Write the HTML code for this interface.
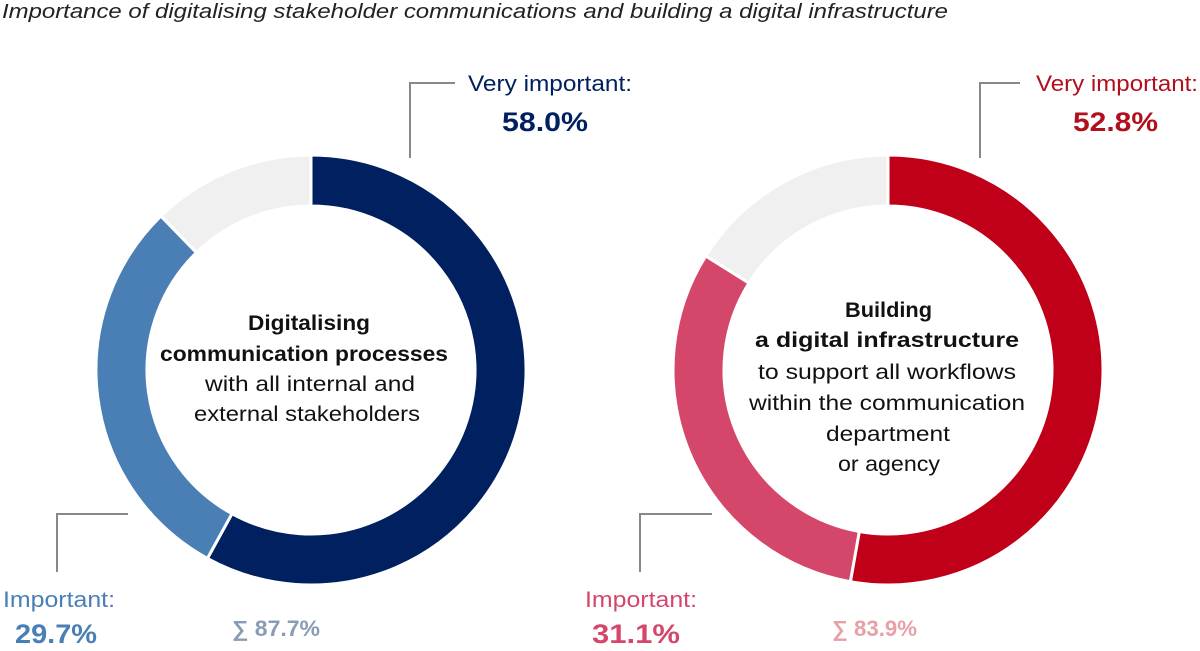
<!DOCTYPE html>
<html><head><meta charset="utf-8"><style>
body{margin:0;width:1200px;height:646px;background:#fff;overflow:hidden;font-family:"Liberation Sans",sans-serif}
svg text{font-family:"Liberation Sans",sans-serif}
</style></head><body>
<svg id="chart" width="1200" height="646">
<text x="2" y="18" font-size="20" font-style="italic" fill="#222" textLength="946" lengthAdjust="spacingAndGlyphs">Importance of digitalising stakeholder communications and building a digital infrastructure</text>
<g id="d1"></g>
<g id="d2"></g>
<g stroke="#888" stroke-width="2" fill="none">
<polyline points="455,83 410,83 410,158"/>
<polyline points="128,514 57,514 57,572"/>
<polyline points="1020,83 980,83 980,158"/>
<polyline points="712,514 640,514 640,572"/>
</g>
<g font-size="22" lengthAdjust="spacingAndGlyphs">
<text x="468" y="91" textLength="164" lengthAdjust="spacingAndGlyphs" fill="#002060">Very important:</text>
<text x="502" y="131" textLength="86" lengthAdjust="spacingAndGlyphs" fill="#002060" font-weight="bold" font-size="27">58.0%</text>
<text x="3" y="607" textLength="112" lengthAdjust="spacingAndGlyphs" fill="#4a7fb5">Important:</text>
<text x="15" y="643" textLength="82" lengthAdjust="spacingAndGlyphs" fill="#4a7fb5" font-weight="bold" font-size="27">29.7%</text>
<text x="232" y="636" textLength="88" lengthAdjust="spacingAndGlyphs" fill="#8a9bb5" font-weight="bold">∑ 87.7%</text>
<text x="1036" y="91" textLength="162" lengthAdjust="spacingAndGlyphs" fill="#b0101c">Very important:</text>
<text x="1073" y="131" textLength="85" lengthAdjust="spacingAndGlyphs" fill="#b0101c" font-weight="bold" font-size="27">52.8%</text>
<text x="585" y="607" textLength="112" lengthAdjust="spacingAndGlyphs" fill="#d4476a">Important:</text>
<text x="592" y="643" textLength="88" lengthAdjust="spacingAndGlyphs" fill="#d4476a" font-weight="bold" font-size="27">31.1%</text>
<text x="832" y="636" textLength="85" lengthAdjust="spacingAndGlyphs" fill="#e8a0a8" font-weight="bold">∑ 83.9%</text>
</g>
<g font-size="21" fill="#111">
<text x="248" y="330" textLength="122" lengthAdjust="spacingAndGlyphs" font-weight="bold">Digitalising</text>
<text x="160" y="361" textLength="288" lengthAdjust="spacingAndGlyphs" font-weight="bold">communication processes</text>
<text x="205" y="391" textLength="210" lengthAdjust="spacingAndGlyphs">with all internal and</text>
<text x="194" y="421" textLength="226" lengthAdjust="spacingAndGlyphs">external stakeholders</text>
<text x="845" y="317" textLength="87" lengthAdjust="spacingAndGlyphs" font-weight="bold">Building</text>
<text x="755" y="347" textLength="264" lengthAdjust="spacingAndGlyphs" font-weight="bold">a digital infrastructure</text>
<text x="758" y="379" textLength="258" lengthAdjust="spacingAndGlyphs">to support all workflows</text>
<text x="749" y="410" textLength="276" lengthAdjust="spacingAndGlyphs">within the communication</text>
<text x="826" y="441" textLength="124" lengthAdjust="spacingAndGlyphs">department</text>
<text x="838" y="471" textLength="102" lengthAdjust="spacingAndGlyphs">or agency</text>
</g>
</svg>
<script>
const categories=["Very important","Important","Other"];
const valuesDigitalising=[58.0,29.7,12.3];
const valuesInfrastructure=[52.8,31.1,16.1];
const colors1=["#002060","#4a7fb5","#f0f0f0"];
const colors2=["#c00018","#d4476a","#f0f0f0"];
const NS="http://www.w3.org/2000/svg";
function pt(cx,cy,r,a){return [cx+r*Math.sin(a),cy-r*Math.cos(a)];}
function donut(g,cx,cy,vals,cols){
  const R=215,r=164;let start=0;
  vals.forEach((v,i)=>{
    const end=start+v/100*2*Math.PI;
    const la=(end-start)>Math.PI?1:0;
    const [x1,y1]=pt(cx,cy,R,start),[x2,y2]=pt(cx,cy,R,end),[x3,y3]=pt(cx,cy,r,end),[x4,y4]=pt(cx,cy,r,start);
    const p=document.createElementNS(NS,"path");
    p.setAttribute("d",`M${x1},${y1}A${R},${R} 0 ${la} 1 ${x2},${y2}L${x3},${y3}A${r},${r} 0 ${la} 0 ${x4},${y4}Z`);
    p.setAttribute("fill",cols[i]);p.setAttribute("stroke","#fff");p.setAttribute("stroke-width","3");
    
    
    g.appendChild(p);start=end;
  });
}
donut(document.getElementById("d1"),311,370,valuesDigitalising,colors1);
donut(document.getElementById("d2"),888,370,valuesInfrastructure,colors2);
</script>
</body></html>
